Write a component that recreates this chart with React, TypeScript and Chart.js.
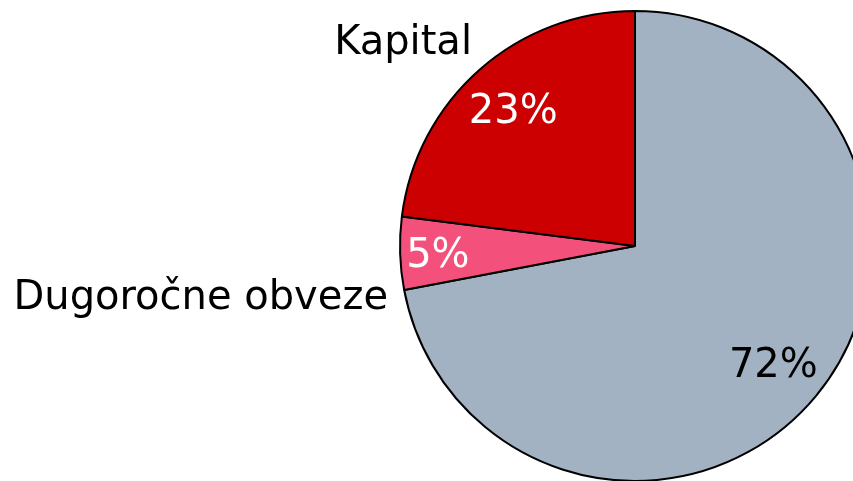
import React, { useEffect, useRef } from "react";
import { Chart, registerables } from "chart.js";

Chart.register(...registerables);

const categories = ["Kratkoročne obveze", "Dugoročne obveze", "Kapital"];
const values = [72, 5, 23];
const pctLabels = ["72%", "5%", "23%"];
const outerLabels = ["", "Dugoročne obveze", "Kapital"];

const colors = ["#A3B2C2", "#F4507C", "#CC0000"];
const pctColors = ["#000000", "#FFFFFF", "#FFFFFF"];
// polar placement (angle in degrees clockwise from top, radius factor)
const pctPos: [number, number][] = [
  [131, 0.78],
  [267, 0.84],
  [317.7, 0.77],
];
const outerPos: [number, number][] = [
  [0, 0],
  [257.9, 1.075],
  [321.2, 1.107],
];

const FONT = "40px 'DejaVu Sans'";

const labelPlugin = {
  id: "pieLabels",
  afterDatasetsDraw(chart: any) {
    const ctx = chart.ctx;
    const meta = chart.getDatasetMeta(0);
    const arc = meta.data[0];
    if (!arc) return;
    const cx = arc.x;
    const cy = arc.y;
    const r = arc.outerRadius;
    ctx.save();
    ctx.font = FONT;
    ctx.textBaseline = "middle";
    meta.data.forEach((_: any, i: number) => {
      const [a, f] = pctPos[i];
      const t = (a * Math.PI) / 180;
      const x = cx + Math.sin(t) * r * f;
      const y = cy - Math.cos(t) * r * f;
      ctx.fillStyle = pctColors[i];
      ctx.textAlign = "center";
      ctx.fillText(pctLabels[i], x, y);
      if (outerLabels[i]) {
        const [a2, f2] = outerPos[i];
        const t2 = (a2 * Math.PI) / 180;
        const x2 = cx + Math.sin(t2) * r * f2;
        const y2 = cy - Math.cos(t2) * r * f2;
        ctx.fillStyle = "#000000";
        ctx.textAlign = "right";
        ctx.fillText(outerLabels[i], x2, y2);
      }
    });
    ctx.restore();
  },
};

export default function App() {
  const ref = useRef<HTMLCanvasElement>(null);
  useEffect(() => {
    document.body.style.margin = "0";
    document.body.style.overflow = "hidden";
    const chart = new Chart(ref.current!, {
      type: "pie",
      data: {
        labels: categories,
        datasets: [
          {
            data: values,
            backgroundColor: colors,
            borderColor: "#000000",
            borderWidth: 2,
          },
        ],
      },
      options: {
        animation: false,
        responsive: false,
        layout: { padding: { top: 10, bottom: 10, left: 0, right: 0 } },
        plugins: {
          legend: { display: false },
          tooltip: { enabled: false },
        },
      },
      plugins: [labelPlugin],
    });
    return () => chart.destroy();
  }, []);
  return (
    <div
      style={{
        position: "fixed",
        left: 0,
        top: 0,
        width: 853,
        height: 481,
        overflow: "hidden",
        background: "#fff",
      }}
    >
      <canvas ref={ref} width={1270} height={492} style={{ position: "absolute", left: 0, top: 0 }} />
    </div>
  );
}
